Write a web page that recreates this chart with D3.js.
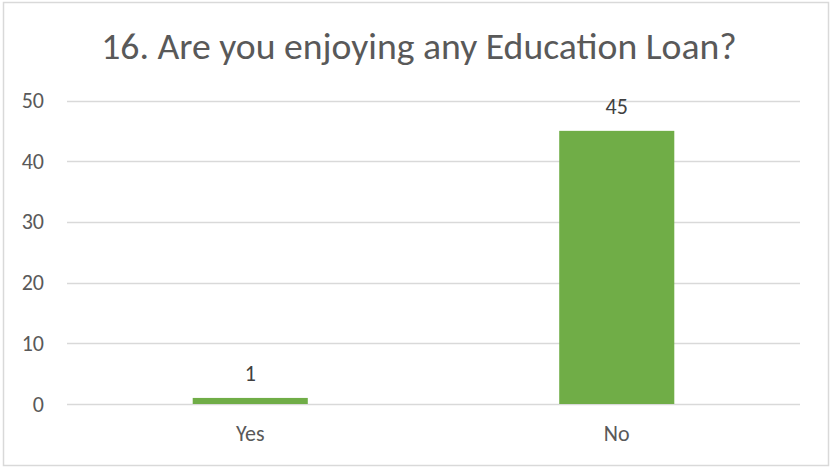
<!DOCTYPE html>
<html><head><meta charset="utf-8">
<script src="https://cdn.jsdelivr.net/npm/d3@7"></script>
<style>body{margin:0;background:#fff;} svg{display:block;}</style>
</head><body>
<script>
const categories = ["Yes", "No"];
const values = [1, 45];
const yTicks = [0, 10, 20, 30, 40, 50];
const title = "16. Are you enjoying any Education Loan?";

const W = 830, H = 467;
const svg = d3.select("body").append("svg").attr("width", W).attr("height", H);
const font = "Carlito, Calibri, 'Open Sans', sans-serif";

svg.append("rect").attr("x", 3.5).attr("y", 2.5).attr("width", 825).attr("height", 463)
  .attr("fill", "#fff").attr("stroke", "#d9d9d9").attr("stroke-width", 1.5);

const x = d3.scaleBand().domain(categories).range([67, 800]).paddingInner(0.686).paddingOuter(0.343);
const y = d3.scaleLinear().domain([0, 50]).range([404, 100.5]);

svg.append("text").attr("x", 419).attr("y", 59).attr("text-anchor", "middle")
  .attr("font-family", font).attr("font-size", 37.7).attr("fill", "#595959").text(title);

const grid = svg.append("g");
grid.selectAll("line").data(yTicks).join("line")
  .attr("x1", 67).attr("x2", 800)
  .attr("y1", d => Math.round(y(d)) + 0.5).attr("y2", d => Math.round(y(d)) + 0.5)
  .attr("stroke", "#d9d9d9").attr("stroke-width", 1.5);

const yAxis = d3.axisLeft(y).tickValues(yTicks).tickSize(0).tickPadding(0);
const ya = svg.append("g").attr("transform", "translate(44,0)").call(yAxis);
ya.select(".domain").remove();
ya.selectAll("text").attr("font-family", font).attr("font-size", 22).attr("fill", "#595959");

const xAxis = d3.axisBottom(x).tickSize(0).tickPadding(0);
const xa = svg.append("g").attr("transform", "translate(0,425)").call(xAxis);
xa.select(".domain").remove();
xa.selectAll("text").attr("font-family", font).attr("font-size", 22).attr("fill", "#595959");

svg.append("g").selectAll("rect").data(values).join("rect")
  .attr("x", (d, i) => x(categories[i])).attr("width", x.bandwidth())
  .attr("y", d => y(d)).attr("height", d => y(0) - y(d))
  .attr("fill", "#70ad47");

svg.append("g").selectAll("text").data(values).join("text")
  .attr("x", (d, i) => x(categories[i]) + x.bandwidth() / 2)
  .attr("y", d => y(d) - 17).attr("text-anchor", "middle")
  .attr("font-family", font).attr("font-size", 22).attr("fill", "#404040")
  .text(d => d);
</script>
</body></html>
